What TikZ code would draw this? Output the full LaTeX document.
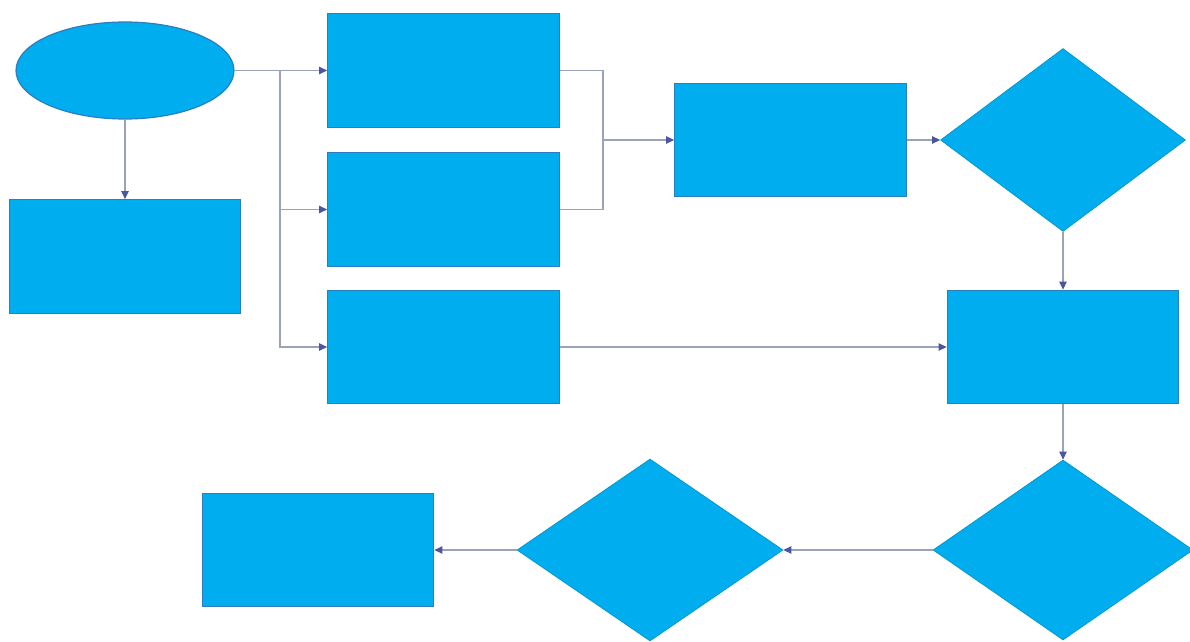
\documentclass[tikz,border=0pt]{standalone}
\usetikzlibrary{shapes.geometric,arrows.meta}
\definecolor{boxfill}{HTML}{00AEEF}
\definecolor{boxline}{HTML}{2A7FBF}
\definecolor{connc}{HTML}{9BA3BA}
\definecolor{tipc}{HTML}{4A56A0}
\tikzset{
  flowbox/.style={rectangle, fill=boxfill, draw=boxline, line width=0.7pt, inner sep=0pt, minimum width=4.63cm, minimum height=2.27cm},
  startshape/.style={ellipse, fill=boxfill, draw=boxline, line width=0.7pt, inner sep=0pt, minimum width=4.36cm, minimum height=1.94cm},
  decide/.style={diamond, fill=boxfill, draw=boxfill!85!black, line width=0.4pt, inner sep=0pt},
  plainline/.style={draw=connc, line width=0.85pt},
  conn/.style={plainline, -{Triangle[length=4.6pt,width=4.2pt,color=tipc,fill=tipc]}},
}
\begin{document}
\begin{tikzpicture}[x=0.02cm,y=-0.02cm]
\fill[white] (0,0) rectangle (1190,642);
\useasboundingbox (0,0) rectangle (1190,642);
\clip (0,0) rectangle (1190,642);
% nodes
\node[startshape] (st) at (125,70.5) {};
\node[flowbox] (L) at (125,256.5) {};
\node[flowbox] (A) at (443.5,70.5) {};
\node[flowbox] (B) at (443.5,209.5) {};
\node[flowbox] (C) at (443.5,347) {};
\node[flowbox] (D) at (790.5,140) {};
\node[decide, minimum width=4.9cm, minimum height=3.66cm] (d1) at (1063,140) {};
\node[flowbox] (E) at (1063,347) {};
\node[decide, minimum width=5.2cm, minimum height=3.6cm] (d2) at (1063,550) {};
\node[decide, minimum width=5.32cm, minimum height=3.64cm] (d3) at (650,550) {};
\node[flowbox] (F) at (318,550) {};
% junction coordinates
\coordinate (t) at (280,70.5);
\coordinate (m) at (603,140);
% connectors
\draw[conn] (st.south) -- (L.north);
\draw[conn] (st.east) -- (A.west);
\draw[conn] (t) |- (B.west);
\draw[conn] (t) |- (C.west);
\draw[plainline] (A.east) -| (m);
\draw[plainline] (B.east) -| (m);
\draw[conn] (m) -- (D.west);
\draw[conn] (D.east) -- (d1.west);
\draw[conn] (d1.south) -- (E.north);
\draw[conn] (C.east) -- (E.west);
\draw[conn] (E.south) -- (d2.north);
\draw[conn] (d2.west) -- (d3.east);
\draw[conn] (d3.west) -- (F.east);
\end{tikzpicture}
\end{document}
